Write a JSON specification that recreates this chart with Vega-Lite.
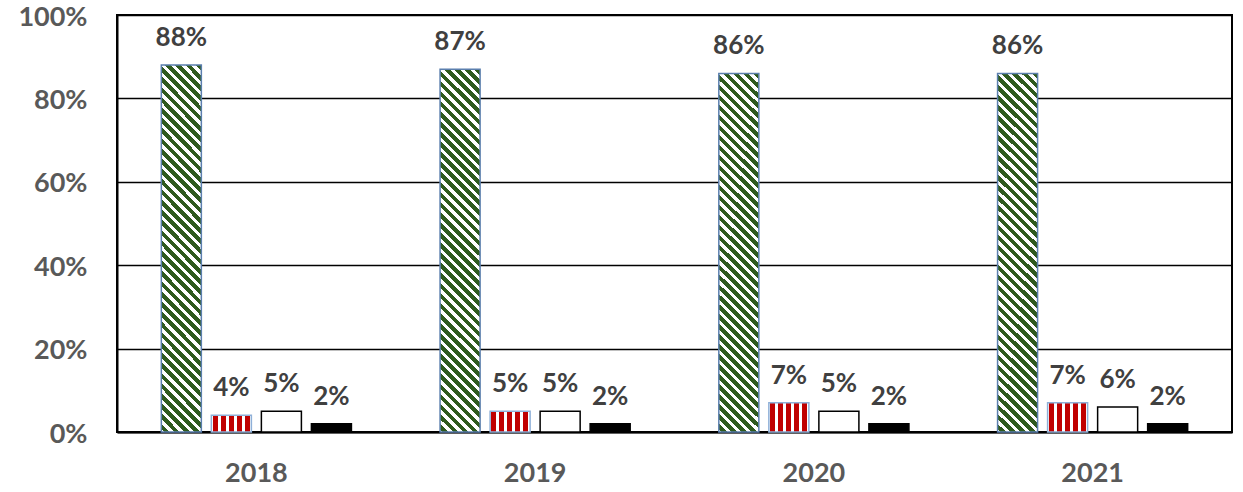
{
  "$schema": "https://vega.github.io/schema/vega-lite/v6.json",
  "autosize": "none",
  "width": 1115,
  "height": 417,
  "padding": {"left": 117, "top": 15, "right": 11, "bottom": 60},
  "background": "white",
  "config": {
    "view": {"stroke": "black", "strokeWidth": 2},
    "axis": {
      "labelFont": "Lato",
      "labelFontWeight": "bold",
      "labelColor": "#595959",
      "labelFontSize": 27,
      "ticks": false,
      "title": null,
      "domainColor": "black",
      "domainWidth": 2,
      "gridColor": "black",
      "gridWidth": 1.5,
      "gridOpacity": 1
    }
  },
  "data": {
    "values": [
      {"year": "2018", "cat": "s1", "value": 0.88},
      {"year": "2018", "cat": "s2", "value": 0.04},
      {"year": "2018", "cat": "s3", "value": 0.05},
      {"year": "2018", "cat": "s4", "value": 0.02},
      {"year": "2019", "cat": "s1", "value": 0.87},
      {"year": "2019", "cat": "s2", "value": 0.05},
      {"year": "2019", "cat": "s3", "value": 0.05},
      {"year": "2019", "cat": "s4", "value": 0.02},
      {"year": "2020", "cat": "s1", "value": 0.86},
      {"year": "2020", "cat": "s2", "value": 0.07},
      {"year": "2020", "cat": "s3", "value": 0.05},
      {"year": "2020", "cat": "s4", "value": 0.02},
      {"year": "2021", "cat": "s1", "value": 0.86},
      {"year": "2021", "cat": "s2", "value": 0.07},
      {"year": "2021", "cat": "s3", "value": 0.06},
      {"year": "2021", "cat": "s4", "value": 0.02}
    ]
  },
  "encoding": {
    "x": {
      "field": "year",
      "type": "nominal",
      "scale": {"paddingInner": 0.318, "paddingOuter": 0.159},
      "axis": {"labelAngle": 0, "labelPadding": 28, "grid": false}
    },
    "xOffset": {
      "field": "cat",
      "type": "nominal",
      "scale": {"paddingInner": 0.2, "paddingOuter": 0}
    },
    "y": {
      "field": "value",
      "type": "quantitative",
      "scale": {"domain": [0, 1]},
      "axis": {"values": [0, 0.2, 0.4, 0.6, 0.8, 1], "format": ".0%", "labelPadding": 30, "labelOffset": 2, "grid": true}
    }
  },
  "layer": [
    {
      "mark": {"type": "bar", "strokeWidth": 1.5},
      "encoding": {
        "fill": {
          "condition": [
            {
              "test": "datum.cat === 's1'",
              "value": {
                "gradient": "linear",
                "x1": 0, "y1": 1, "x2": 0.1212, "y2": -0.1,
                "stops": [
                  {"offset": 0, "color": "#ffffff"},
                  {"offset": 0.007, "color": "#ffffff"}, {"offset": 0.007, "color": "#2f5a1e"}, {"offset": 0.021, "color": "#2f5a1e"}, {"offset": 0.021, "color": "#ffffff"},
                  {"offset": 0.032, "color": "#ffffff"}, {"offset": 0.032, "color": "#2f5a1e"}, {"offset": 0.046, "color": "#2f5a1e"}, {"offset": 0.046, "color": "#ffffff"},
                  {"offset": 0.057, "color": "#ffffff"}, {"offset": 0.057, "color": "#2f5a1e"}, {"offset": 0.071, "color": "#2f5a1e"}, {"offset": 0.071, "color": "#ffffff"},
                  {"offset": 0.082, "color": "#ffffff"}, {"offset": 0.082, "color": "#2f5a1e"}, {"offset": 0.096, "color": "#2f5a1e"}, {"offset": 0.096, "color": "#ffffff"},
                  {"offset": 0.107, "color": "#ffffff"}, {"offset": 0.107, "color": "#2f5a1e"}, {"offset": 0.121, "color": "#2f5a1e"}, {"offset": 0.121, "color": "#ffffff"},
                  {"offset": 0.132, "color": "#ffffff"}, {"offset": 0.132, "color": "#2f5a1e"}, {"offset": 0.146, "color": "#2f5a1e"}, {"offset": 0.146, "color": "#ffffff"},
                  {"offset": 0.157, "color": "#ffffff"}, {"offset": 0.157, "color": "#2f5a1e"}, {"offset": 0.171, "color": "#2f5a1e"}, {"offset": 0.171, "color": "#ffffff"},
                  {"offset": 0.182, "color": "#ffffff"}, {"offset": 0.182, "color": "#2f5a1e"}, {"offset": 0.196, "color": "#2f5a1e"}, {"offset": 0.196, "color": "#ffffff"},
                  {"offset": 0.207, "color": "#ffffff"}, {"offset": 0.207, "color": "#2f5a1e"}, {"offset": 0.221, "color": "#2f5a1e"}, {"offset": 0.221, "color": "#ffffff"},
                  {"offset": 0.232, "color": "#ffffff"}, {"offset": 0.232, "color": "#2f5a1e"}, {"offset": 0.246, "color": "#2f5a1e"}, {"offset": 0.246, "color": "#ffffff"},
                  {"offset": 0.257, "color": "#ffffff"}, {"offset": 0.257, "color": "#2f5a1e"}, {"offset": 0.271, "color": "#2f5a1e"}, {"offset": 0.271, "color": "#ffffff"},
                  {"offset": 0.282, "color": "#ffffff"}, {"offset": 0.282, "color": "#2f5a1e"}, {"offset": 0.296, "color": "#2f5a1e"}, {"offset": 0.296, "color": "#ffffff"},
                  {"offset": 0.307, "color": "#ffffff"}, {"offset": 0.307, "color": "#2f5a1e"}, {"offset": 0.321, "color": "#2f5a1e"}, {"offset": 0.321, "color": "#ffffff"},
                  {"offset": 0.332, "color": "#ffffff"}, {"offset": 0.332, "color": "#2f5a1e"}, {"offset": 0.346, "color": "#2f5a1e"}, {"offset": 0.346, "color": "#ffffff"},
                  {"offset": 0.357, "color": "#ffffff"}, {"offset": 0.357, "color": "#2f5a1e"}, {"offset": 0.371, "color": "#2f5a1e"}, {"offset": 0.371, "color": "#ffffff"},
                  {"offset": 0.382, "color": "#ffffff"}, {"offset": 0.382, "color": "#2f5a1e"}, {"offset": 0.396, "color": "#2f5a1e"}, {"offset": 0.396, "color": "#ffffff"},
                  {"offset": 0.407, "color": "#ffffff"}, {"offset": 0.407, "color": "#2f5a1e"}, {"offset": 0.421, "color": "#2f5a1e"}, {"offset": 0.421, "color": "#ffffff"},
                  {"offset": 0.432, "color": "#ffffff"}, {"offset": 0.432, "color": "#2f5a1e"}, {"offset": 0.446, "color": "#2f5a1e"}, {"offset": 0.446, "color": "#ffffff"},
                  {"offset": 0.457, "color": "#ffffff"}, {"offset": 0.457, "color": "#2f5a1e"}, {"offset": 0.471, "color": "#2f5a1e"}, {"offset": 0.471, "color": "#ffffff"},
                  {"offset": 0.482, "color": "#ffffff"}, {"offset": 0.482, "color": "#2f5a1e"}, {"offset": 0.496, "color": "#2f5a1e"}, {"offset": 0.496, "color": "#ffffff"},
                  {"offset": 0.507, "color": "#ffffff"}, {"offset": 0.507, "color": "#2f5a1e"}, {"offset": 0.521, "color": "#2f5a1e"}, {"offset": 0.521, "color": "#ffffff"},
                  {"offset": 0.532, "color": "#ffffff"}, {"offset": 0.532, "color": "#2f5a1e"}, {"offset": 0.546, "color": "#2f5a1e"}, {"offset": 0.546, "color": "#ffffff"},
                  {"offset": 0.557, "color": "#ffffff"}, {"offset": 0.557, "color": "#2f5a1e"}, {"offset": 0.571, "color": "#2f5a1e"}, {"offset": 0.571, "color": "#ffffff"},
                  {"offset": 0.582, "color": "#ffffff"}, {"offset": 0.582, "color": "#2f5a1e"}, {"offset": 0.596, "color": "#2f5a1e"}, {"offset": 0.596, "color": "#ffffff"},
                  {"offset": 0.607, "color": "#ffffff"}, {"offset": 0.607, "color": "#2f5a1e"}, {"offset": 0.621, "color": "#2f5a1e"}, {"offset": 0.621, "color": "#ffffff"},
                  {"offset": 0.632, "color": "#ffffff"}, {"offset": 0.632, "color": "#2f5a1e"}, {"offset": 0.646, "color": "#2f5a1e"}, {"offset": 0.646, "color": "#ffffff"},
                  {"offset": 0.657, "color": "#ffffff"}, {"offset": 0.657, "color": "#2f5a1e"}, {"offset": 0.671, "color": "#2f5a1e"}, {"offset": 0.671, "color": "#ffffff"},
                  {"offset": 0.682, "color": "#ffffff"}, {"offset": 0.682, "color": "#2f5a1e"}, {"offset": 0.696, "color": "#2f5a1e"}, {"offset": 0.696, "color": "#ffffff"},
                  {"offset": 0.707, "color": "#ffffff"}, {"offset": 0.707, "color": "#2f5a1e"}, {"offset": 0.721, "color": "#2f5a1e"}, {"offset": 0.721, "color": "#ffffff"},
                  {"offset": 0.732, "color": "#ffffff"}, {"offset": 0.732, "color": "#2f5a1e"}, {"offset": 0.746, "color": "#2f5a1e"}, {"offset": 0.746, "color": "#ffffff"},
                  {"offset": 0.757, "color": "#ffffff"}, {"offset": 0.757, "color": "#2f5a1e"}, {"offset": 0.771, "color": "#2f5a1e"}, {"offset": 0.771, "color": "#ffffff"},
                  {"offset": 0.782, "color": "#ffffff"}, {"offset": 0.782, "color": "#2f5a1e"}, {"offset": 0.796, "color": "#2f5a1e"}, {"offset": 0.796, "color": "#ffffff"},
                  {"offset": 0.807, "color": "#ffffff"}, {"offset": 0.807, "color": "#2f5a1e"}, {"offset": 0.821, "color": "#2f5a1e"}, {"offset": 0.821, "color": "#ffffff"},
                  {"offset": 0.832, "color": "#ffffff"}, {"offset": 0.832, "color": "#2f5a1e"}, {"offset": 0.846, "color": "#2f5a1e"}, {"offset": 0.846, "color": "#ffffff"},
                  {"offset": 0.857, "color": "#ffffff"}, {"offset": 0.857, "color": "#2f5a1e"}, {"offset": 0.871, "color": "#2f5a1e"}, {"offset": 0.871, "color": "#ffffff"},
                  {"offset": 0.882, "color": "#ffffff"}, {"offset": 0.882, "color": "#2f5a1e"}, {"offset": 0.896, "color": "#2f5a1e"}, {"offset": 0.896, "color": "#ffffff"},
                  {"offset": 0.907, "color": "#ffffff"}, {"offset": 0.907, "color": "#2f5a1e"}, {"offset": 0.921, "color": "#2f5a1e"}, {"offset": 0.921, "color": "#ffffff"},
                  {"offset": 0.932, "color": "#ffffff"}, {"offset": 0.932, "color": "#2f5a1e"}, {"offset": 0.946, "color": "#2f5a1e"}, {"offset": 0.946, "color": "#ffffff"},
                  {"offset": 0.957, "color": "#ffffff"}, {"offset": 0.957, "color": "#2f5a1e"}, {"offset": 0.971, "color": "#2f5a1e"}, {"offset": 0.971, "color": "#ffffff"},
                  {"offset": 0.982, "color": "#ffffff"}, {"offset": 0.982, "color": "#2f5a1e"}, {"offset": 0.996, "color": "#2f5a1e"}, {"offset": 0.996, "color": "#ffffff"},
                  {"offset": 1, "color": "#ffffff"}
                ]
              }
            },
            {
              "test": "datum.cat === 's2'",
              "value": {
                "gradient": "linear",
                "x1": 0, "y1": 0, "x2": 1, "y2": 0,
                "stops": [
                  {"offset": 0, "color": "#ffffff"},
                  {"offset": 0.03, "color": "#ffffff"}, {"offset": 0.03, "color": "#c00000"}, {"offset": 0.155, "color": "#c00000"}, {"offset": 0.155, "color": "#ffffff"},
                  {"offset": 0.23, "color": "#ffffff"}, {"offset": 0.23, "color": "#c00000"}, {"offset": 0.355, "color": "#c00000"}, {"offset": 0.355, "color": "#ffffff"},
                  {"offset": 0.43, "color": "#ffffff"}, {"offset": 0.43, "color": "#c00000"}, {"offset": 0.555, "color": "#c00000"}, {"offset": 0.555, "color": "#ffffff"},
                  {"offset": 0.63, "color": "#ffffff"}, {"offset": 0.63, "color": "#c00000"}, {"offset": 0.755, "color": "#c00000"}, {"offset": 0.755, "color": "#ffffff"},
                  {"offset": 0.83, "color": "#ffffff"}, {"offset": 0.83, "color": "#c00000"}, {"offset": 0.955, "color": "#c00000"}, {"offset": 0.955, "color": "#ffffff"},
                  {"offset": 1, "color": "#ffffff"}
                ]
              }
            },
            {"test": "datum.cat === 's3'", "value": "#ffffff"}
          ],
          "value": "#000000"
        },
        "stroke": {
          "condition": [
            {"test": "datum.cat === 's1'", "value": "#5b7fae"},
            {"test": "datum.cat === 's2'", "value": "#8fb0d8"}
          ],
          "value": "#000000"
        }
      }
    },
    {
      "mark": {
        "type": "text",
        "baseline": "alphabetic",
        "dy": -19,
        "font": "Lato",
        "fontWeight": "bold",
        "fontSize": 26,
        "color": "#404040"
      },
      "encoding": {
        "text": {"field": "value", "type": "quantitative", "format": ".0%"}
      }
    }
  ]
}
